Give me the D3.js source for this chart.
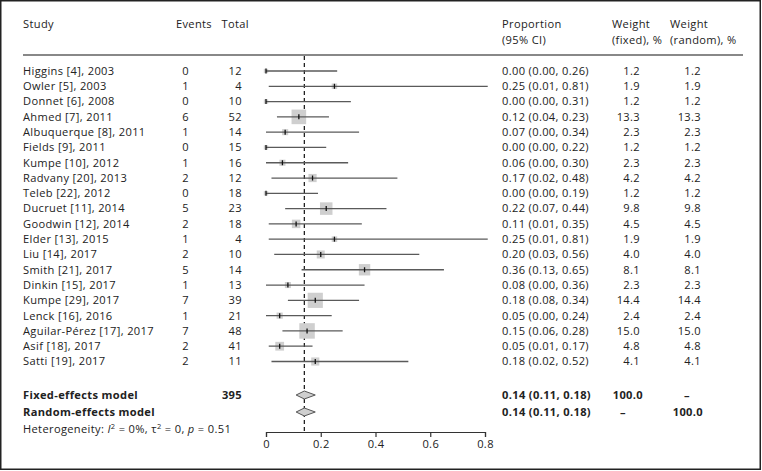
<!DOCTYPE html>
<html>
<head>
<meta charset="utf-8">
<script src="https://cdn.jsdelivr.net/npm/d3@7"></script>
<style>
html,body{margin:0;padding:0;background:#fff;}
svg{display:block;font-family:"Open Sans",sans-serif;}
</style>
</head>
<body>
<svg id="chart" width="762" height="471"></svg>
<script>
const studies = ["Higgins [4], 2003","Owler [5], 2003","Donnet [6], 2008","Ahmed [7], 2011","Albuquerque [8], 2011","Fields [9], 2011","Kumpe [10], 2012","Radvany [20], 2013","Teleb [22], 2012","Ducruet [11], 2014","Goodwin [12], 2014","Elder [13], 2015","Liu [14], 2017","Smith [21], 2017","Dinkin [15], 2017","Kumpe [29], 2017","Lenck [16], 2016","Aguilar-Pérez [17], 2017","Asif [18], 2017","Satti [19], 2017"];
const events = [0,1,0,6,1,0,1,2,0,5,2,1,2,5,1,7,1,7,2,2];
const totals = [12,4,10,52,14,15,16,12,18,23,18,4,10,14,13,39,21,48,41,11];
const proportion = [0.00,0.25,0.00,0.12,0.07,0.00,0.06,0.17,0.00,0.22,0.11,0.25,0.20,0.36,0.08,0.18,0.05,0.15,0.05,0.18];
const ciLower = [0.00,0.01,0.00,0.04,0.00,0.00,0.00,0.02,0.00,0.07,0.01,0.01,0.03,0.13,0.00,0.08,0.00,0.06,0.01,0.02];
const ciUpper = [0.26,0.81,0.31,0.23,0.34,0.22,0.30,0.48,0.19,0.44,0.35,0.81,0.56,0.65,0.36,0.34,0.24,0.28,0.17,0.52];
const weightFixed = [1.2,1.9,1.2,13.3,2.3,1.2,2.3,4.2,1.2,9.8,4.5,1.9,4.0,8.1,2.3,14.4,2.4,15.0,4.8,4.1];
const weightRandom = [1.2,1.9,1.2,13.3,2.3,1.2,2.3,4.2,1.2,9.8,4.5,1.9,4.0,8.1,2.3,14.4,2.4,15.0,4.8,4.1];

const summaryLabels = ["Fixed-effects model","Random-effects model"];
const summaryTotal = [395, null];
const summaryEst = [0.14, 0.14];
const summaryLower = [0.11, 0.11];
const summaryUpper = [0.18, 0.18];
const summaryWFixed = ["100.0","–"];
const summaryWRandom = ["–","100.0"];
const xTicks = [0,0.2,0.4,0.6,0.8];

const svg = d3.select("#chart");
const fs = 11.1;
const ls = "0.35px";
const txt = "#222";

// border
svg.append("rect").attr("x",0.75).attr("y",0.75).attr("width",759.5).attr("height",468.5)
  .attr("fill","none").attr("stroke","#222").attr("stroke-width",1.5);

const x = d3.scaleLinear().domain([0,0.8]).range([266,485]);
const y = d3.scalePoint().domain(d3.range(studies.length)).range([71,361.5]);
const ySum = [395, 412];
const yHet = 429;
const yAxis = 432;

const fmt2 = d3.format(".2f");
const fmt1 = d3.format(".1f");

// headers
const hdr = svg.append("g").attr("fill",txt).attr("font-size",fs).attr("letter-spacing",ls);
hdr.append("text").attr("x",23).attr("y",24).attr("dy","0.35em").text("Study");
hdr.append("text").attr("x",212).attr("y",24).attr("dy","0.35em").attr("text-anchor","end").text("Events");
hdr.append("text").attr("x",249).attr("y",24).attr("dy","0.35em").attr("text-anchor","end").text("Total");
hdr.append("text").attr("x",502).attr("y",24).attr("dy","0.35em").text("Proportion");
hdr.append("text").attr("x",502).attr("y",40).attr("dy","0.35em").text("(95% CI)");
hdr.append("text").attr("x",612).attr("y",24).attr("dy","0.35em").text("Weight");
hdr.append("text").attr("x",612).attr("y",40).attr("dy","0.35em").text("(fixed), %");
hdr.append("text").attr("x",670).attr("y",24).attr("dy","0.35em").text("Weight");
hdr.append("text").attr("x",670).attr("y",40).attr("dy","0.35em").text("(random), %");

svg.append("line").attr("x1",23).attr("x2",743).attr("y1",55).attr("y2",55)
  .attr("stroke","#888").attr("stroke-width",2);

// rows text
const rows = svg.append("g").attr("fill",txt).attr("font-size",fs).attr("letter-spacing",ls);
studies.forEach((s,i)=>{
  const g = rows.append("g").attr("transform",`translate(0,${y(i)})`);
  g.append("text").attr("x",23).attr("dy","0.35em").text(s);
  g.append("text").attr("x",189).attr("dy","0.35em").attr("text-anchor","end").text(events[i]);
  g.append("text").attr("x",242).attr("dy","0.35em").attr("text-anchor","end").text(totals[i]);
  g.append("text").attr("x",502).attr("dy","0.35em")
    .text(`${fmt2(proportion[i])} (${fmt2(ciLower[i])}, ${fmt2(ciUpper[i])})`);
  g.append("text").attr("x",640).attr("dy","0.35em").attr("text-anchor","end").text(fmt1(weightFixed[i]));
  g.append("text").attr("x",701).attr("dy","0.35em").attr("text-anchor","end").text(fmt1(weightRandom[i]));
});

// summary text
summaryLabels.forEach((s,i)=>{
  const g = svg.append("g").attr("transform",`translate(0,${ySum[i]})`)
    .attr("fill",txt).attr("font-size",fs).attr("letter-spacing",ls).attr("font-weight","bold");
  g.append("text").attr("x",23).attr("dy","0.35em").text(s);
  if (summaryTotal[i] !== null)
    g.append("text").attr("x",242).attr("dy","0.35em").attr("text-anchor","end").text(summaryTotal[i]);
  g.append("text").attr("x",502).attr("dy","0.35em")
    .text(`${fmt2(summaryEst[i])} (${fmt2(summaryLower[i])}, ${fmt2(summaryUpper[i])})`);
  if (summaryWFixed[i] === "–")
    g.append("text").attr("x",623).attr("dy","0.35em").attr("text-anchor","middle").text("–");
  else
    g.append("text").attr("x",643).attr("dy","0.35em").attr("text-anchor","end").text(summaryWFixed[i]);
  if (summaryWRandom[i] === "–")
    g.append("text").attr("x",687).attr("dy","0.35em").attr("text-anchor","middle").text("–");
  else
    g.append("text").attr("x",703).attr("dy","0.35em").attr("text-anchor","end").text(summaryWRandom[i]);
});

// heterogeneity
const het = svg.append("text").attr("x",23).attr("y",yHet).attr("dy","0.35em")
  .attr("fill",txt).attr("font-size",fs).attr("letter-spacing",ls);
het.append("tspan").text("Heterogeneity: ");
het.append("tspan").attr("font-style","italic").text("I");
het.append("tspan").attr("font-size",7.5).attr("dy","-0.5em").text("2");
het.append("tspan").attr("dy","0.33em").text(" = 0%, τ");
het.append("tspan").attr("font-size",7.5).attr("dy","-0.5em").text("2");
het.append("tspan").attr("dy","0.33em").text(" = 0, ");
het.append("tspan").attr("font-style","italic").text("p");
het.append("tspan").text(" = 0.51");

// dashed reference (fixed estimate)
svg.append("line").attr("x1",x(summaryEst[0])).attr("x2",x(summaryEst[0]))
  .attr("y1",56).attr("y2",yAxis)
  .attr("stroke","#111").attr("stroke-width",1.2).attr("stroke-dasharray","4,3");

// CI lines, squares, ticks
const plot = svg.append("g");
studies.forEach((s,i)=>{
  const yy = y(i);
  const side = 4.0*Math.sqrt(weightFixed[i]);
  plot.append("rect").attr("x",x(proportion[i])-side/2).attr("y",yy-side/2)
    .attr("width",side).attr("height",side).attr("fill","#cfcfcf");
  plot.append("line").attr("x1",x(ciLower[i])).attr("x2",x(ciUpper[i]))
    .attr("y1",yy).attr("y2",yy).attr("stroke","#5a5a5a").attr("stroke-width",1.3);
  plot.append("line").attr("x1",x(proportion[i])).attr("x2",x(proportion[i]))
    .attr("y1",yy-2.5).attr("y2",yy+2.5).attr("stroke","#111").attr("stroke-width",1.3);
});

// diamonds
summaryLabels.forEach((s,i)=>{
  const yy = ySum[i];
  const pts = [[x(summaryLower[i]),yy],[x(summaryEst[i]),yy-4],[x(summaryUpper[i]),yy],[x(summaryEst[i]),yy+4]];
  plot.append("path").attr("d",d3.line()(pts)+"Z")
    .attr("fill","#cfcfcf").attr("stroke","#555").attr("stroke-width",1);
});

// axis
const axis = svg.append("g").attr("transform",`translate(0,${yAxis})`)
  .call(d3.axisBottom(x).tickValues(xTicks).tickSize(5).tickPadding(3)
    .tickFormat(d=> d===0 ? "0" : d3.format(".1f")(d)));
axis.select(".domain").attr("stroke","#333").attr("stroke-width",1.2);
axis.selectAll(".tick line").attr("stroke","#333").attr("stroke-width",1.2);
axis.selectAll("text").attr("font-size",fs).attr("fill",txt).attr("letter-spacing",ls)
  .attr("font-family","Open Sans, sans-serif");
</script>
</body>
</html>
